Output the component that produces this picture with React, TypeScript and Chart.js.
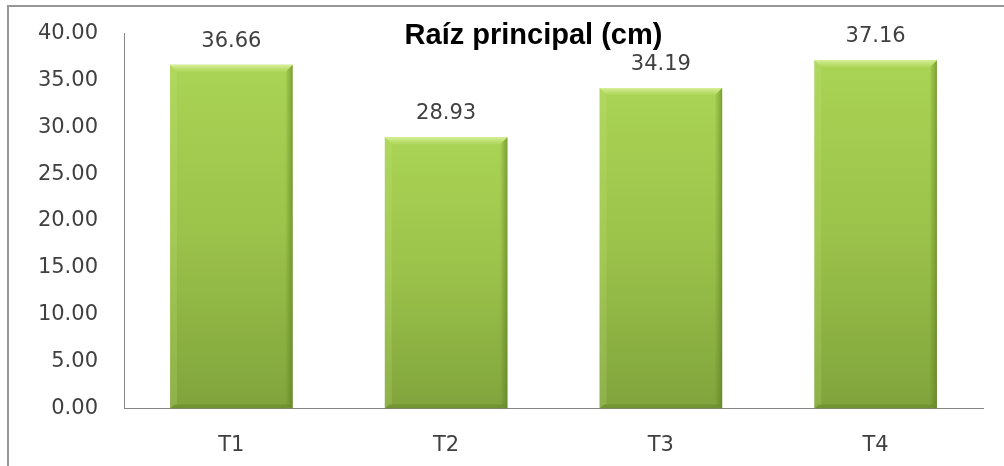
import React, { useEffect, useRef } from "react";
import { Chart, registerables } from "chart.js";

Chart.register(...registerables);

const categories = ["T1", "T2", "T3", "T4"];
const values = [36.66, 28.93, 34.19, 37.16];
const chartTitle = "Raíz principal (cm)";
const yMin = 0;
const yMax = 40;
const yStep = 5;

const TEXT_COLOR = "#404040";
const AXIS_COLOR = "#868686";
const FONT = "'DejaVu Sans', sans-serif";

const valueLabels = {
  id: "valueLabels",
  afterDatasetsDraw(chart: any) {
    const ctx = chart.ctx;
    const meta = chart.getDatasetMeta(0);
    ctx.save();
    ctx.font = `21px ${FONT}`;
    ctx.fillStyle = TEXT_COLOR;
    ctx.textAlign = "center";
    ctx.textBaseline = "alphabetic";
    meta.data.forEach((bar: any, i: number) => {
      const v = chart.data.datasets[0].data[i];
      ctx.fillText(Number(v).toFixed(2), bar.x, bar.y - 18);
    });
    ctx.restore();
  },
};

const bevel = {
  id: "bevel",
  afterDatasetsDraw(chart: any) {
    const ctx = chart.ctx;
    const meta = chart.getDatasetMeta(0);
    ctx.save();
    meta.data.forEach((bar: any) => {
      const w = bar.width;
      const l = bar.x - w / 2;
      const r = bar.x + w / 2;
      const t = bar.y;
      const b = bar.base;
      const d = 7;
      // top bevel (light)
      const gt = ctx.createLinearGradient(0, t, 0, t + d);
      gt.addColorStop(0, "rgba(220,242,160,0.95)");
      gt.addColorStop(1, "rgba(190,225,110,0.3)");
      ctx.fillStyle = gt;
      ctx.beginPath();
      ctx.moveTo(l, t);
      ctx.lineTo(r, t);
      ctx.lineTo(r - d, t + d);
      ctx.lineTo(l + d, t + d);
      ctx.closePath();
      ctx.fill();
      // left bevel (slightly light)
      ctx.fillStyle = "rgba(200,230,130,0.2)";
      ctx.beginPath();
      ctx.moveTo(l, t);
      ctx.lineTo(l + d, t + d);
      ctx.lineTo(l + d, b - 4);
      ctx.lineTo(l, b);
      ctx.closePath();
      ctx.fill();
      // right bevel (dark)
      const gr = ctx.createLinearGradient(r - d, 0, r, 0);
      gr.addColorStop(0, "rgba(90,120,30,0.05)");
      gr.addColorStop(1, "rgba(85,115,28,0.55)");
      ctx.fillStyle = gr;
      ctx.beginPath();
      ctx.moveTo(r, t);
      ctx.lineTo(r, b);
      ctx.lineTo(r - d, b - 4);
      ctx.lineTo(r - d, t + d);
      ctx.closePath();
      ctx.fill();
      // bottom bevel (dark, thin)
      ctx.fillStyle = "rgba(80,110,25,0.3)";
      ctx.beginPath();
      ctx.moveTo(l, b);
      ctx.lineTo(r, b);
      ctx.lineTo(r - 4, b - 4);
      ctx.lineTo(l + 4, b - 4);
      ctx.closePath();
      ctx.fill();
    });
    ctx.restore();
  },
};

const titlePlugin = {
  id: "overlayTitle",
  afterDraw(chart: any) {
    const ctx = chart.ctx;
    const area = chart.chartArea;
    ctx.save();
    ctx.font = `bold 29px 'Liberation Sans', Arial, sans-serif`;
    ctx.fillStyle = "#000000";
    ctx.textAlign = "center";
    ctx.textBaseline = "alphabetic";
    ctx.fillText(chartTitle, (area.left + area.right) / 2 - 20, area.top + 10);
    ctx.restore();
  },
};

function barGradient(context: any) {
  const chart = context.chart;
  const yScale = chart.scales && chart.scales.y;
  if (!chart.chartArea || !yScale) return "#98c046";
  const v = context.raw as number;
  const top = yScale.getPixelForValue(v);
  const bottom = yScale.getPixelForValue(0);
  if (!isFinite(top) || !isFinite(bottom) || top === bottom) return "#98c046";
  const g = chart.ctx.createLinearGradient(0, top, 0, bottom);
  g.addColorStop(0, "#aad455");
  g.addColorStop(0.5, "#9bc24a");
  g.addColorStop(1, "#80a43c");
  return g;
}

export default function App() {
  const canvasRef = useRef<HTMLCanvasElement | null>(null);

  useEffect(() => {
    const canvas = canvasRef.current;
    if (!canvas) return;
    const chart = new Chart(canvas, {
      type: "bar",
      data: {
        labels: categories,
        datasets: [
          {
            data: values,
            backgroundColor: barGradient,
            borderWidth: 0,
            barPercentage: 0.571,
            categoryPercentage: 1,
          },
        ],
      },
      options: {
        responsive: false,
        animation: false,
        layout: { padding: { left: 0, right: 21, top: 33.5, bottom: 0 } },
        plugins: {
          legend: { display: false },
          title: { display: false },
          tooltip: { enabled: false },
        },
        scales: {
          x: {
            grid: { display: false, drawTicks: false },
            border: { display: true, color: AXIS_COLOR, width: 1 },
            ticks: {
              color: TEXT_COLOR,
              font: { family: FONT, size: 21 },
              padding: 24,
            },
            afterFit(scale: any) {
              scale.height = 57.5;
              scale.paddingLeft = 0;
              scale.paddingRight = 0;
            },
          },
          y: {
            min: yMin,
            max: yMax,
            grid: { display: false, drawTicks: false },
            border: { display: true, color: AXIS_COLOR, width: 1 },
            ticks: {
              stepSize: yStep,
              color: TEXT_COLOR,
              font: { family: FONT, size: 21 },
              padding: 26,
              callback: (v: any) => Number(v).toFixed(2),
            },
            afterFit(scale: any) {
              scale.width = 124;
              scale.paddingTop = 0;
              scale.paddingBottom = 0;
            },
          },
        },
      },
      plugins: [bevel, valueLabels, titlePlugin],
    });
    return () => chart.destroy();
  }, []);

  return (
    <div
      style={{
        position: "fixed",
        left: 0,
        top: 0,
        width: 1004,
        height: 466,
        background: "#ffffff",
        overflow: "hidden",
      }}
    >
      <div
        style={{
          position: "absolute",
          left: 7,
          top: 5,
          width: 1100,
          height: 600,
          borderLeft: "2px solid #979797",
          borderTop: "2px solid #979797",
        }}
      />
      <canvas
        ref={canvasRef}
        width={1004}
        height={466}
        style={{ position: "absolute", left: 0, top: 0, display: "block" }}
      />
    </div>
  );
}
